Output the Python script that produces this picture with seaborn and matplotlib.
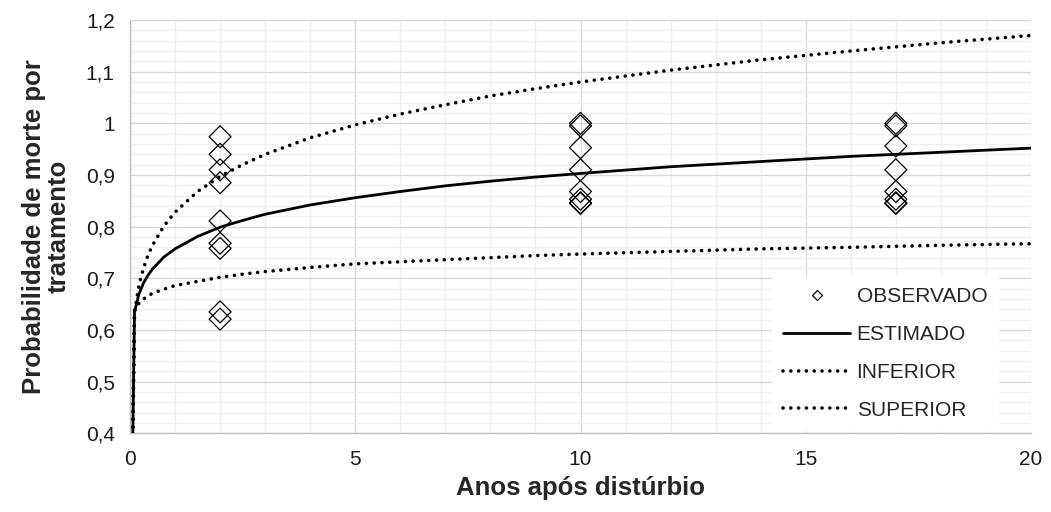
import matplotlib
matplotlib.use("Agg")
import matplotlib.pyplot as plt
from matplotlib.lines import Line2D
from matplotlib.ticker import MultipleLocator, FixedLocator, FixedFormatter
import seaborn as sns
import pandas as pd

# ---------------- data ----------------
obs_x = [2, 2, 2, 2, 2, 2, 2, 2, 2,
         10, 10, 10, 10, 10, 10, 10, 10,
         17, 17, 17, 17, 17, 17, 17, 17]
obs_y = [0.974, 0.940, 0.910, 0.885, 0.811, 0.768, 0.758, 0.635, 0.621,
         1.000, 0.995, 0.953, 0.910, 0.868, 0.853, 0.846, 0.845,
         1.000, 0.995, 0.956, 0.910, 0.868, 0.853, 0.846, 0.845]

curve_x = [0, 0.1, 0.2, 0.3, 0.4, 0.5, 0.75, 1, 1.5, 2, 2.5, 3, 4, 5, 6, 7, 8, 9,
           10, 12, 14, 16, 18, 20]
estimado = [0.0, 0.635, 0.670, 0.691, 0.706, 0.718, 0.741, 0.757, 0.781, 0.799, 0.812,
            0.824, 0.842, 0.856, 0.868, 0.879, 0.888, 0.896, 0.903, 0.916, 0.926,
            0.936, 0.944, 0.952]
inferior = [0.0, 0.638, 0.652, 0.660, 0.666, 0.671, 0.679, 0.686, 0.694, 0.702, 0.708,
            0.713, 0.721, 0.728, 0.732, 0.736, 0.740, 0.744, 0.747, 0.752, 0.757,
            0.760, 0.764, 0.767]
superior = [0.0, 0.634, 0.687, 0.720, 0.745, 0.764, 0.801, 0.828, 0.868, 0.897, 0.920,
            0.940, 0.972, 0.997, 1.018, 1.036, 1.053, 1.067, 1.080, 1.103, 1.123,
            1.140, 1.156, 1.170]

x_ticks = [0, 5, 10, 15, 20]
x_ticklabels = ["0", "5", "10", "15", "20"]
y_ticks = [0.4, 0.5, 0.6, 0.7, 0.8, 0.9, 1.0, 1.1, 1.2]
y_ticklabels = ["0,4", "0,5", "0,6", "0,7", "0,8", "0,9", "1", "1,1", "1,2"]

labels = ["OBSERVADO", "ESTIMADO", "INFERIOR", "SUPERIOR"]
x_title = "Anos após distúrbio"
y_title = "Probabilidade de morte por\ntratamento"

# ---------------- style ----------------
sns.set_style("white")
plt.rcParams["font.family"] = ["Liberation Sans", "DejaVu Sans"]

fig = plt.figure(figsize=(10.51, 5.12), dpi=100)
ax = fig.add_axes([130 / 1051, 1 - 433.3 / 512, 901 / 1051, 413.3 / 512])

obs_df = pd.DataFrame({"x": obs_x, "y": obs_y})
curves = pd.DataFrame({"x": curve_x, "est": estimado, "inf": inferior, "sup": superior})

dot_lw = 2.6
dot_style = (0, (0.01, 2.15))

sns.lineplot(data=curves, x="x", y="est", ax=ax, color="black", lw=2.0,
             estimator=None, sort=False, legend=False, zorder=3)
sns.lineplot(data=curves, x="x", y="inf", ax=ax, color="black", lw=dot_lw,
             linestyle=dot_style, dash_capstyle="round",
             estimator=None, sort=False, legend=False, zorder=3)
sns.lineplot(data=curves, x="x", y="sup", ax=ax, color="black", lw=dot_lw,
             linestyle=dot_style, dash_capstyle="round",
             estimator=None, sort=False, legend=False, zorder=3)
sns.scatterplot(data=obs_df, x="x", y="y", ax=ax, marker="D", s=125,
                facecolors="none", edgecolor="black", linewidth=0.9,
                legend=False, zorder=4)

ax.set_xlim(0, 20)
ax.set_ylim(0.4, 1.2)
ax.xaxis.set_major_locator(FixedLocator(x_ticks))
ax.xaxis.set_major_formatter(FixedFormatter(x_ticklabels))
ax.yaxis.set_major_locator(FixedLocator(y_ticks))
ax.yaxis.set_major_formatter(FixedFormatter(y_ticklabels))
ax.xaxis.set_minor_locator(MultipleLocator(1))
ax.yaxis.set_minor_locator(MultipleLocator(0.02))

ax.grid(which="minor", color="#efefef", lw=0.9, zorder=0)
ax.grid(which="major", color="#d9d9d9", lw=1.0, zorder=1)
ax.set_axisbelow(True)

for s in ["top", "right"]:
    ax.spines[s].set_visible(False)
for s in ["left", "bottom"]:
    ax.spines[s].set_color("#bfbfbf")
    ax.spines[s].set_linewidth(1.0)

ax.tick_params(which="major", axis="both", length=5, width=0.8, color="#bfbfbf",
               labelsize=15, labelcolor="#1a1a1a", direction="out")
ax.tick_params(which="major", axis="y", pad=6)
ax.tick_params(which="major", axis="x", pad=7)
ax.tick_params(which="minor", length=0)

ax.set_xlabel(x_title, fontsize=18.5, fontweight="bold", labelpad=5)
ax.set_ylabel(y_title, fontsize=18.5, fontweight="bold", labelpad=11,
              linespacing=1.0)

handles = [
    Line2D([], [], marker="D", ms=5, mfc="none", mec="black", mew=0.9, ls="none"),
    Line2D([], [], color="black", lw=2.0),
    Line2D([], [], color="black", lw=dot_lw, ls=dot_style, dash_capstyle="round"),
    Line2D([], [], color="black", lw=dot_lw, ls=dot_style, dash_capstyle="round"),
]
leg = ax.legend(handles, labels, loc="lower right", bbox_to_anchor=(0.963, 0.008),
                borderaxespad=0, fontsize=15, frameon=True, fancybox=False,
                framealpha=1, facecolor="white", edgecolor="white",
                handlelength=3.25, handletextpad=0.3, labelspacing=0.9,
                borderpad=0.5)
leg.set_zorder(5)

fig.savefig("out.png", dpi=100)
